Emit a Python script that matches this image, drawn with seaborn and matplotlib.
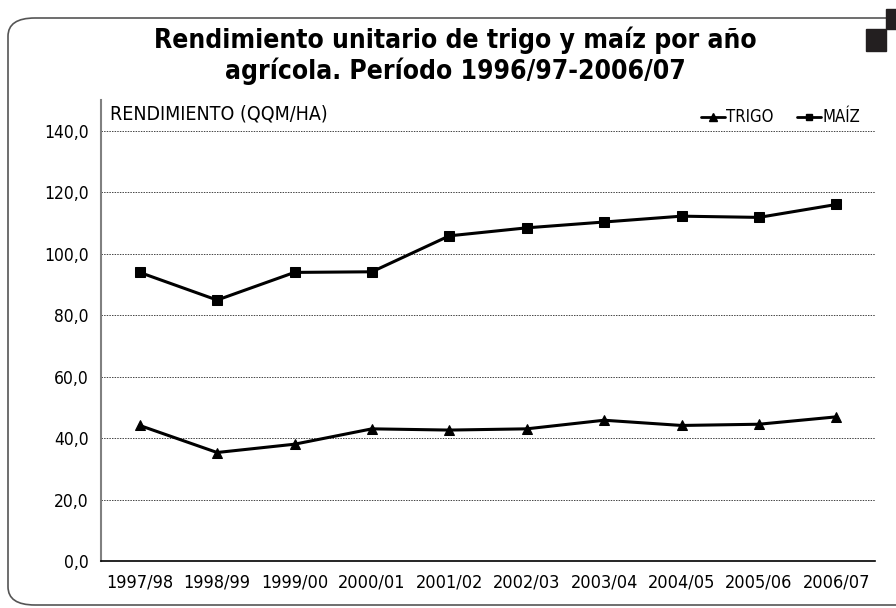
import matplotlib
matplotlib.use("Agg")
import matplotlib.pyplot as plt
import pandas as pd
import seaborn as sns
from matplotlib.lines import Line2D
from matplotlib.patches import FancyBboxPatch, Rectangle
from matplotlib.ticker import FuncFormatter, FixedLocator

# Datos (qqm/ha)
campanias = ["1997/98", "1998/99", "1999/00", "2000/01", "2001/02",
             "2002/03", "2003/04", "2004/05", "2005/06", "2006/07"]
trigo = [44.2, 35.4, 38.1, 43.1, 42.7, 43.1, 45.9, 44.2, 44.6, 47.0]
maiz = [94.0, 85.0, 94.0, 94.2, 105.9, 108.5, 110.4, 112.3, 111.9, 116.1]
series = ["TRIGO", "MAÍZ"]
yticks = [0, 20, 40, 60, 80, 100, 120, 140]

df = pd.DataFrame({
    "campania": campanias * 2,
    "pos": list(range(len(campanias))) * 2,
    "valor": trigo + maiz,
    "serie": ["TRIGO"] * len(trigo) + ["MAÍZ"] * len(maiz),
})

sns.set_style("white")
plt.rcParams["font.family"] = ["Liberation Sans Narrow", "DejaVu Sans"]
plt.rcParams["font.stretch"] = "condensed"
plt.rcParams["text.color"] = "black"
plt.rcParams["xtick.color"] = "black"
plt.rcParams["ytick.color"] = "black"

fig = plt.figure(figsize=(8.96, 6.08), dpi=100)
W, H = 896, 608

# marco redondeado y cuadrados decorativos
fig.patches.append(FancyBboxPatch((8 / W, 3 / H), 930 / W, 587 / H,
                                  boxstyle="round,pad=0,rounding_size=0.03",
                                  transform=fig.transFigure, facecolor="none",
                                  edgecolor="#555555", linewidth=1.2))
fig.patches.append(Rectangle((886 / W, (H - 29) / H), 10 / W, 20 / H,
                             transform=fig.transFigure, color="#231f20"))
fig.patches.append(Rectangle((866 / W, (H - 51) / H), 20 / W, 22 / H,
                             transform=fig.transFigure, color="#231f20"))

fig.text(455 / W, (H - 40) / H, "Rendimiento unitario de trigo y maíz por año",
         ha="center", va="center", fontsize=19, fontweight="black")
fig.text(455 / W, (H - 71) / H, "agrícola. Período 1996/97-2006/07",
         ha="center", va="center", fontsize=19, fontweight="black")

ax = fig.add_axes([101 / W, (H - 561.3) / H, 774 / W, 461 / H])

sns.lineplot(data=df, x="pos", y="valor", hue="serie", style="serie",
             palette={"TRIGO": "black", "MAÍZ": "black"},
             markers={"TRIGO": "^", "MAÍZ": "s"}, dashes=False,
             markersize=7, linewidth=2.2, markeredgecolor="black",
             legend=False, ax=ax)

ax.set_xlim(-0.5, len(campanias) - 0.5)
ax.set_ylim(0, 150)
ax.set_yticks(yticks)
ax.yaxis.set_major_formatter(FuncFormatter(lambda v, p: f"{v:.1f}".replace(".", ",")))
ax.tick_params(axis="y", length=0, labelsize=12.5, pad=9)

# ticks entre categorias, etiquetas en el centro
ax.xaxis.set_major_locator(FixedLocator([i - 0.5 for i in range(len(campanias) + 1)]))
ax.xaxis.set_minor_locator(FixedLocator(list(range(len(campanias)))))
ax.set_xticklabels([], minor=False)
ax.set_xticklabels(campanias, minor=True)
ax.tick_params(axis="x", which="major", length=5, color="#666666", direction="out")
ax.tick_params(axis="x", which="minor", length=0, labelsize=13, pad=9)

for y in yticks[1:]:
    ax.axhline(y, color="#444444", linestyle=(0, (1.5, 1.2)), linewidth=0.7, zorder=0)

for s in ["top", "right"]:
    ax.spines[s].set_visible(False)
ax.spines["left"].set_color("#808080")
ax.spines["left"].set_linewidth(1.5)
ax.spines["bottom"].set_color("black")
ax.spines["bottom"].set_linewidth(1.2)
ax.set_xlabel("")
ax.set_ylabel("")

ax.text(0.012, 0.99, "RENDIMIENTO (QQM/HA)", transform=ax.transAxes,
        ha="left", va="top", fontsize=14)

handles = [Line2D([], [], color="black", marker=m, markersize=ms, linewidth=2)
           for m, ms in [("^", 6), ("s", 5)]]
ax.legend(handles, series, loc="upper right", bbox_to_anchor=(1.0, 1.015),
          ncol=2, frameon=False, fontsize=12, handlelength=1.4,
          handletextpad=0.1, columnspacing=1.4)

fig.savefig("out.png", dpi=100)
